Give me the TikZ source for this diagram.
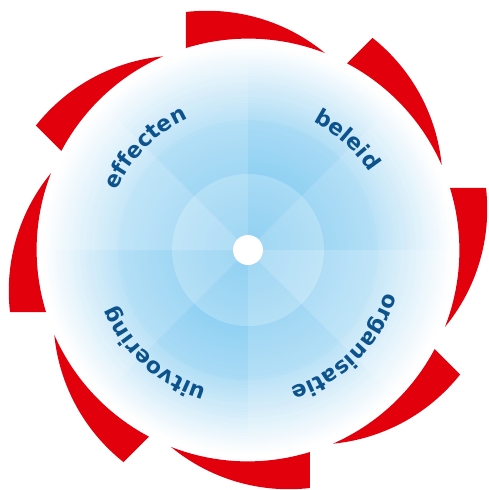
\documentclass[tikz,border=0pt]{standalone}
\usepackage{fontspec}
\usetikzlibrary{decorations.text}
\newfontfamily\wheelfont{DejaVu Sans}[BoldFont={DejaVu Sans Bold}]
\definecolor{wheelblue}{RGB}{104,192,238}
\definecolor{wheelred}{RGB}{226,0,12}
\definecolor{wheeltext}{RGB}{12,82,140}

\begin{document}
\begin{tikzpicture}[
  x=1pt,y=1pt,
  blade/.style={fill=wheelred},
  veil/.style={fill=white,draw=none},
  word/.style={decorate,decoration={text along path,text align=center,text color=wheeltext}},
]
\useasboundingbox (-248,-240) rectangle (240,250);

% disc with glow, fading out to white
\foreach \r in {210,207,...,3} {
  \pgfmathsetmacro\p{\r<=130 ? 96-0.3*\r : max(0,57*(205-\r)/75)}
  \fill[wheelblue!\p!white] (0,0) circle (\r);
}

% rings
\fill[veil,opacity=0.22] (0,0) circle (76);
\fill[veil,opacity=0.09,even odd rule] (0,0) circle (210) (0,0) circle (130);

% sectors: light, medium, dark
\foreach \a/\o in {0/0.14,45/0,90/0.14,135/0.28,180/0.14,225/0,270/0.14,315/0.28}
  \fill[veil,opacity=\o] (0,0) -- (\a:210) arc[start angle=\a,end angle=\a+45,radius=210] -- cycle;

% hub
\fill[white] (0,0) circle (15);

% red blades
\foreach \k in {0,...,7}
  \fill[blade,rotate=-45*\k] (-62,201.7) -- (-62,238)
    arc[start angle=96.6,end angle=50.5,radius=185]
    arc[start angle=68.7,end angle=107.1,radius=211] -- cycle;

% labels
\path[word,decoration={text={|\wheelfont\bfseries\fontsize{22}{24}\selectfont|effecten}}]
  (195:144) arc[start angle=195,end angle=75,radius=144];
\path[word,decoration={text={|\wheelfont\bfseries\fontsize{22}{24}\selectfont|beleid}}]
  (108:144) arc[start angle=108,end angle=-12,radius=144];
\path[word,decoration={text={|\wheelfont\bfseries\fontsize{22}{24}\selectfont|organisatie}}]
  (15:144) arc[start angle=15,end angle=-105,radius=144];
\path[word,decoration={text={|\wheelfont\bfseries\fontsize{22}{24}\selectfont|uitvoering}}]
  (-72:144) arc[start angle=-72,end angle=-192,radius=144];

\end{tikzpicture}
\end{document}
